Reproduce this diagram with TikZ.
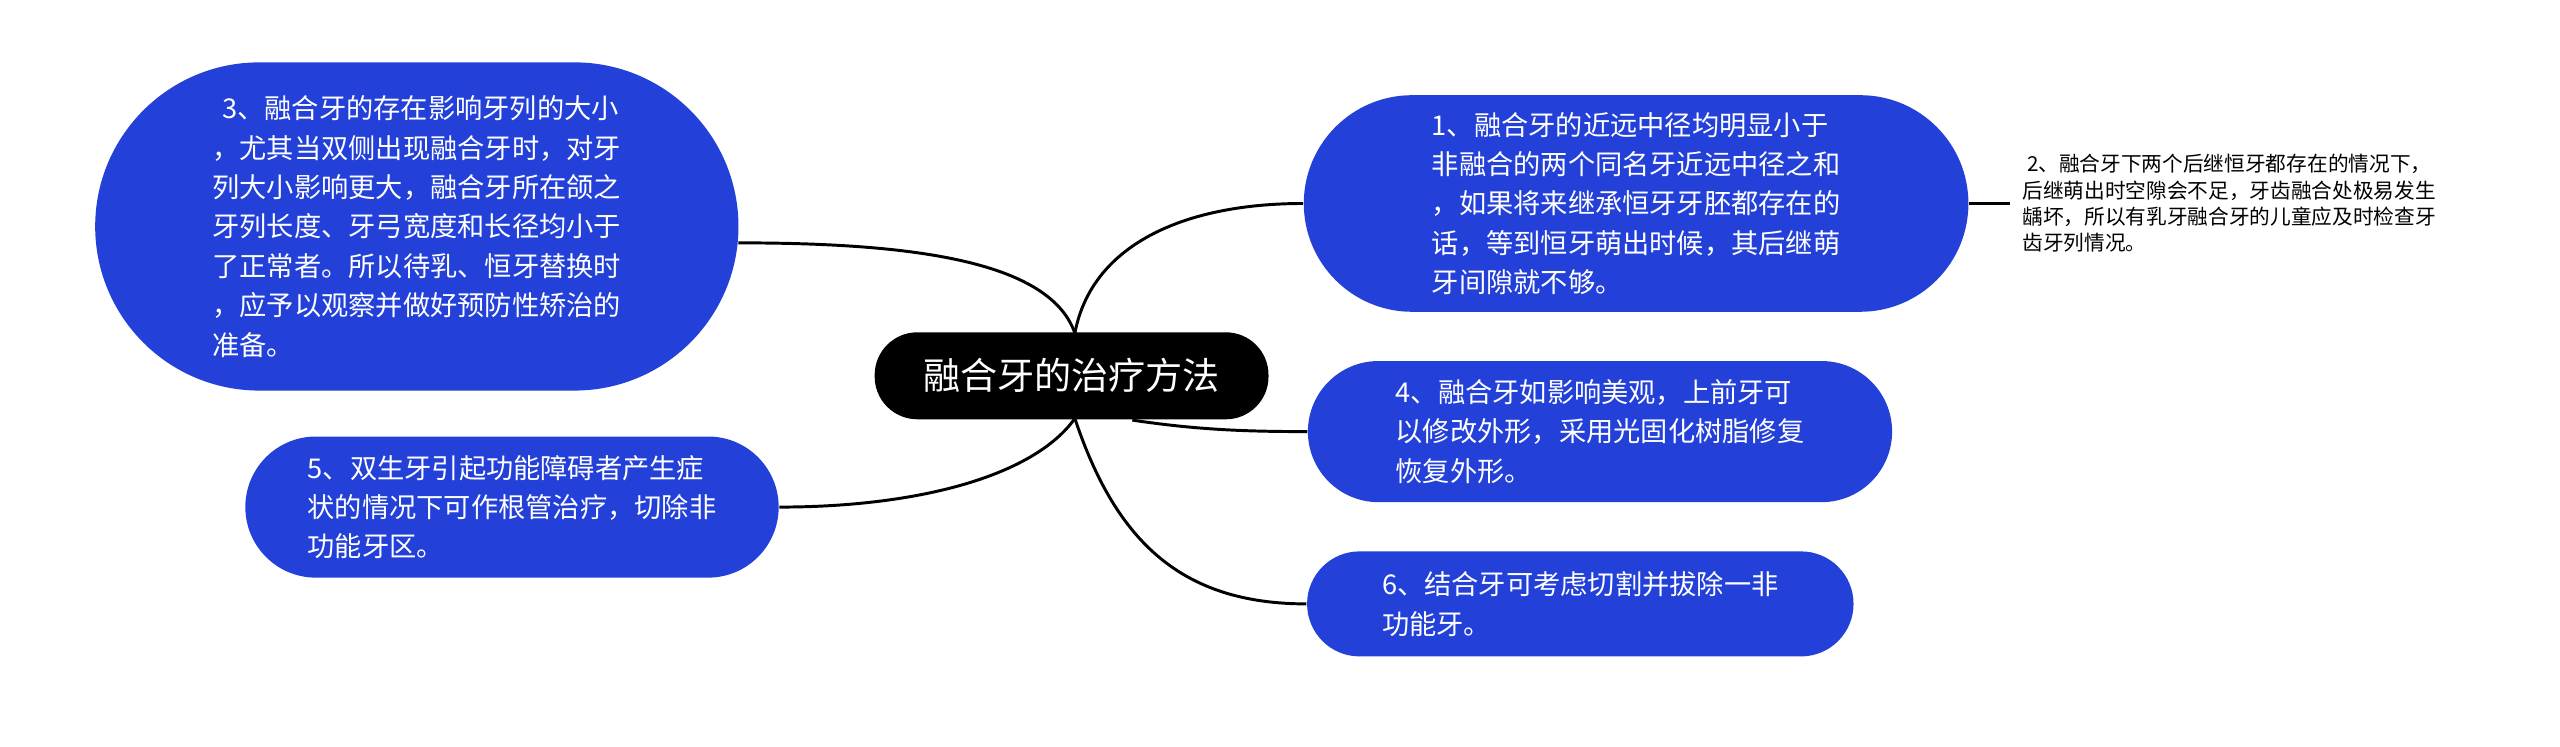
\documentclass[tikz,border=0pt]{standalone}
\usepackage{fontspec}
\setmainfont{Noto Sans CJK SC}
\definecolor{nblue}{HTML}{2340D8}
\begin{document}
\begin{tikzpicture}[x=0.5pt,y=-0.5pt,
  bluebox/.style={fill=nblue,text=white,align=left,font=\fontsize{8.3}{12}\selectfont,inner sep=0pt},
  conn/.style={line width=0.9pt,black}]
\fill[white] (0,0) rectangle (1560,455);
\useasboundingbox (0,0) rectangle (1560,455);
\node[fill=black,text=white,rounded corners=13pt,minimum width=120pt,minimum height=26.5pt,font=\fontsize{11.3}{13}\selectfont] (c) at (653,229) {融合牙的治疗方法};
\node[bluebox,rounded corners=33pt,minimum width=202.5pt,minimum height=66pt] (n1) at (997,124) {1、融合牙的近远中径均明显小于\\非融合的两个同名牙近远中径之和\\，如果将来继承恒牙牙胚都存在的\\话，等到恒牙萌出时候，其后继萌\\牙间隙就不够。};
\node[align=left,font=\fontsize{6.3}{8}\selectfont,inner sep=0pt,anchor=west] (n2) at (1232,124) {\ 2、融合牙下两个后继恒牙都存在的情况下，\\后继萌出时空隙会不足，牙齿融合处极易发生\\龋坏，所以有乳牙融合牙的儿童应及时检查牙\\齿牙列情况。};
\node[bluebox,rounded corners=21.5pt,minimum width=178pt,minimum height=43pt] (n4) at (975,263) {4、融合牙如影响美观，上前牙可\\以修改外形，采用光固化树脂修复\\恢复外形。};
\node[bluebox,rounded corners=16pt,minimum width=166.5pt,minimum height=32pt] (n6) at (963,368) {6、结合牙可考虑切割并拔除一非\\功能牙。\hspace*{6em}};
\node[bluebox,rounded corners=50pt,minimum width=196pt,minimum height=100pt] (n3) at (254,138) {\hspace*{3pt}3、融合牙的存在影响牙列的大小\\，尤其当双侧出现融合牙时，对牙\\列大小影响更大，融合牙所在颌之\\牙列长度、牙弓宽度和长径均小于\\了正常者。所以待乳、恒牙替换时\\，应予以观察并做好预防性矫治的\\准备。};
\node[bluebox,rounded corners=21.5pt,minimum width=162.5pt,minimum height=43pt] (n5) at (312,309) {5、双生牙引起功能障碍者产生症\\状的情况下可作根管治疗，切除非\\功能牙区。};
\coordinate (c1) at (655,203);
\coordinate (c2) at (655,255);
\coordinate (c3) at (690,256);
\draw[conn] (c1) .. controls (665,150) and (720,124) .. (n1.west);
\draw[conn] (n1.east) -- (1225,124);
\draw[conn] (c3) .. controls (730,262) and (760,263) .. (n4.west);
\draw[conn] (c2) .. controls (680,330) and (720,368) .. (n6.west);
\draw[conn] (c1) .. controls (640,160) and (560,148) .. (n3.east|-0,148) -- (450,148);
\draw[conn] (c2) .. controls (630,290) and (560,309) .. (n5.east);
\end{tikzpicture}
\end{document}
